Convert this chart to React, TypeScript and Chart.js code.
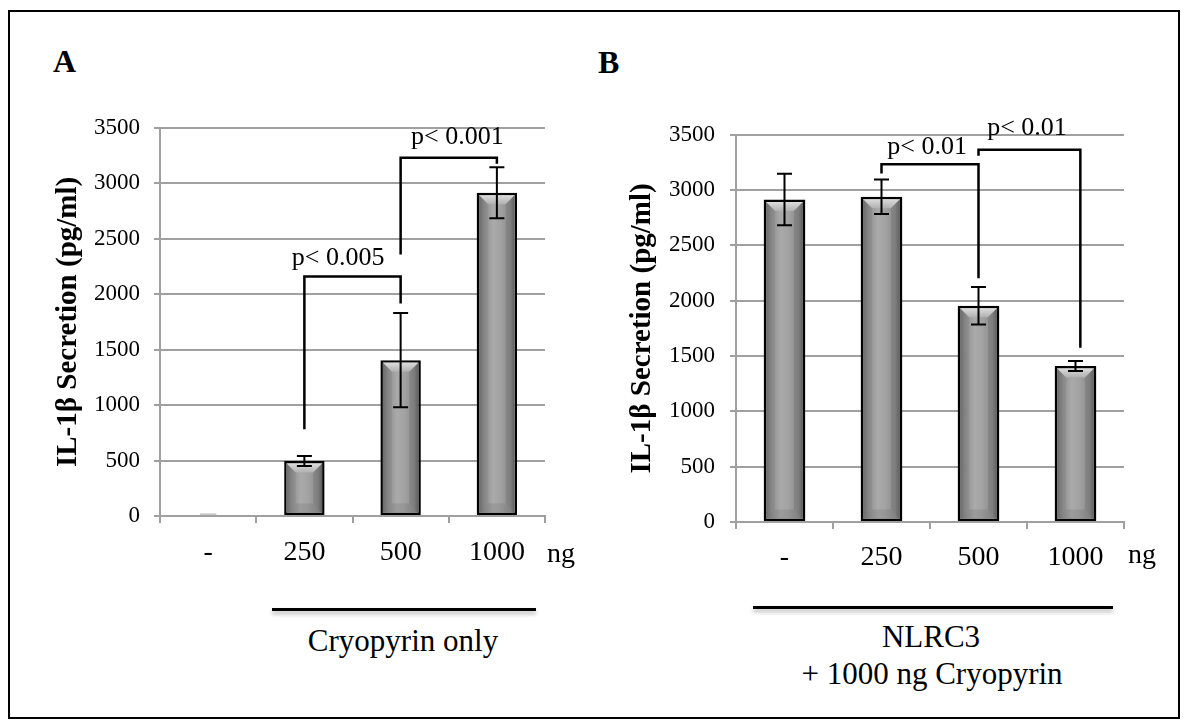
import React, { useEffect, useRef } from 'react';
import { Chart, registerables } from 'chart.js';

Chart.register(...registerables);

const FONT = '"Liberation Serif", "Times New Roman", Times, serif';
const GRID = '#a0a0a0';

const categories = ['-', '250', '500', '1000'];
const yTitle = 'IL-1β Secretion (pg/ml)';

const valuesA = [5, 495, 1405, 2915];
const errorsA = [0, 45, 425, 230];
const valuesB = [2915, 2940, 1955, 1410];
const errorsB = [232, 155, 170, 45];

// brackets: [fromIndex, toIndex, level, fromDropValue, toDropValue]
const bracketsA = [
  [1, 2, 2160, 783, 1917],
  [2, 3, 3230, 2358, 3177],
];
const pTextA = ['p< 0.005', 'p< 0.001'];
const pTextPosA = [
  [1.35, 2321],
  [2.59, 3419],
];

const bracketsB = [
  [1, 2, 3233, 3151, 2203],
  [2, 3.05, 3364, 3311, 1575],
];
const pTextB = ['p< 0.01', 'p< 0.01'];
const pTextPosB = [
  [1.47, 3384],
  [2.5, 3557],
];

function makeDecor(values: number[], errors: number[], brackets: number[][], texts: string[], textPos: number[][]) {
  return {
    id: 'decor',
    afterDatasetsDraw(chart: any) {
      const ctx = chart.ctx as CanvasRenderingContext2D;
      const xs = chart.scales.x;
      const ys = chart.scales.y;
      const meta = chart.getDatasetMeta(0);
      ctx.save();
      meta.data.forEach((el: any) => {
        const p = el.getProps(['x', 'y', 'base', 'width'], true);
        const left = p.x - p.width / 2;
        const right = p.x + p.width / 2;
        const top = Math.min(p.y, p.base);
        const bottom = Math.max(p.y, p.base);
        const h = bottom - top;
        if (h < 3) {
          ctx.fillStyle = '#c4c4c4';
          ctx.fillRect(left + 12, bottom - 2, p.width - 24, 1.5);
          return;
        }
        const bw = 2.5;
        const l = left + bw, r = right - bw, t = top + bw, b = bottom - bw;
        const g = ctx.createLinearGradient(l, 0, r, 0);
        g.addColorStop(0, '#727272');
        g.addColorStop(0.15, '#8f8f8f');
        g.addColorStop(0.4, '#aaaaaa');
        g.addColorStop(0.6, '#a2a2a2');
        g.addColorStop(0.88, '#8c8c8c');
        g.addColorStop(1, '#6a6a6a');
        ctx.fillStyle = g;
        ctx.fillRect(l, t, r - l, b - t);
        const bb = Math.min(9, (r - l) / 2, (b - t) / 2);
        // top bevel
        const tg = ctx.createLinearGradient(0, t, 0, t + bb);
        tg.addColorStop(0, '#dcdcdc');
        tg.addColorStop(1, '#b0b0b0');
        ctx.fillStyle = tg;
        ctx.beginPath();
        ctx.moveTo(l, t); ctx.lineTo(r, t); ctx.lineTo(r - bb, t + bb); ctx.lineTo(l + bb, t + bb); ctx.closePath();
        ctx.fill();
        // bottom bevel
        ctx.fillStyle = 'rgba(60,60,60,0.12)';
        ctx.beginPath();
        ctx.moveTo(l, b); ctx.lineTo(r, b); ctx.lineTo(r - bb, b - bb); ctx.lineTo(l + bb, b - bb); ctx.closePath();
        ctx.fill();
        // side bevels
        ctx.fillStyle = 'rgba(0,0,0,0.06)';
        ctx.beginPath();
        ctx.moveTo(l, t); ctx.lineTo(l + bb, t + bb); ctx.lineTo(l + bb, b - bb); ctx.lineTo(l, b); ctx.closePath();
        ctx.fill();
        ctx.fillStyle = 'rgba(0,0,0,0.1)';
        ctx.beginPath();
        ctx.moveTo(r, t); ctx.lineTo(r - bb, t + bb); ctx.lineTo(r - bb, b - bb); ctx.lineTo(r, b); ctx.closePath();
        ctx.fill();
      });
      // error bars
      ctx.strokeStyle = '#000';
      ctx.lineWidth = 2;
      meta.data.forEach((el: any, i: number) => {
        const e = errors[i];
        if (!e) return;
        const x = el.getProps(['x'], true).x;
        const y1 = ys.getPixelForValue(values[i] + e);
        const y2 = ys.getPixelForValue(values[i] - e);
        ctx.beginPath();
        ctx.moveTo(x, y1); ctx.lineTo(x, y2);
        ctx.moveTo(x - 7.5, y1); ctx.lineTo(x + 7.5, y1);
        ctx.moveTo(x - 7.5, y2); ctx.lineTo(x + 7.5, y2);
        ctx.stroke();
      });
      // brackets
      ctx.lineWidth = 2.5;
      ctx.lineJoin = 'miter';
      brackets.forEach((br) => {
        const x1 = xs.getPixelForValue(br[0]);
        const x2 = xs.getPixelForValue(br[1]);
        const yl = ys.getPixelForValue(br[2]);
        ctx.beginPath();
        ctx.moveTo(x1, ys.getPixelForValue(br[3]));
        ctx.lineTo(x1, yl);
        ctx.lineTo(x2, yl);
        ctx.lineTo(x2, ys.getPixelForValue(br[4]));
        ctx.stroke();
      });
      ctx.fillStyle = '#000';
      ctx.font = `26px ${FONT}`;
      ctx.textAlign = 'center';
      ctx.textBaseline = 'middle';
      texts.forEach((txt, i) => {
        ctx.fillText(txt, xs.getPixelForValue(textPos[i][0]), ys.getPixelForValue(textPos[i][1]));
      });
      ctx.restore();
    },
  };
}

function BarChart(props: {
  values: number[]; errors: number[]; brackets: number[][]; texts: string[]; textPos: number[][];
  barPct: number; padRight: number; xPad: number; titlePad: number; tickPad: number;
}) {
  const ref = useRef<HTMLCanvasElement>(null);
  useEffect(() => {
    const { values } = props;
    const chart = new Chart(ref.current as HTMLCanvasElement, {
      type: 'bar',
      data: {
        labels: categories,
        datasets: [
          {
            data: values,
            backgroundColor: (c: any) => (values[c.dataIndex] < 20 ? 'rgba(0,0,0,0)' : '#969696'),
            borderColor: '#000',
            borderWidth: (c: any) => (values[c.dataIndex] < 20 ? 0 : 2.5),
            borderSkipped: false,
            barPercentage: props.barPct,
            categoryPercentage: 1,
          },
        ],
      },
      options: {
        animation: false,
        responsive: false,
        maintainAspectRatio: false,
        layout: { padding: { top: 27, right: props.padRight, left: 0, bottom: 0 } },
        plugins: { legend: { display: false }, tooltip: { enabled: false } },
        scales: {
          x: {
            offset: true,
            grid: { offset: true, drawOnChartArea: false, drawTicks: true, tickLength: 7, color: GRID, lineWidth: 2 },
            border: { display: true, color: GRID, width: 2 },
            ticks: { color: '#000', font: { family: FONT, size: 28 }, padding: props.xPad, maxRotation: 0, autoSkip: false },
            afterFit: (s: any) => { s.height = 64; },
          },
          y: {
            min: 0,
            max: 3500,
            ticks: {
              stepSize: 500, color: '#000', font: { family: FONT, size: 23 }, padding: props.tickPad,
              callback: (v: any) => String(v),
            },
            grid: { color: GRID, lineWidth: 2, tickLength: 6, drawTicks: true },
            border: { display: true, color: GRID, width: 2 },
            title: {
              display: true,
              text: yTitle,
              color: '#000',
              font: { family: FONT, size: 29, weight: 'bold' },
              padding: { top: props.titlePad, bottom: 0 },
            },
            afterFit: (s: any) => { s.width = 140; },
          },
        },
      } as any,
      plugins: [makeDecor(props.values, props.errors, props.brackets, props.texts, props.textPos)],
    });
    return () => chart.destroy();
  }, []);
  return <canvas ref={ref} width={560} height={480} style={{ display: 'block' }} />;
}

function Label(p: { x: number; y: number; size: number; text: string; bold?: boolean }) {
  return (
    <div
      style={{
        position: 'absolute', left: p.x, top: p.y, transform: 'translate(-50%, -50%)',
        fontFamily: FONT, fontSize: p.size, lineHeight: 1, whiteSpace: 'nowrap',
        fontWeight: p.bold ? 'bold' : 'normal', color: '#000',
      }}
    >
      {p.text}
    </div>
  );
}

export default function App() {
  return (
    <div style={{ position: 'fixed', left: 0, top: 0, width: 1184, height: 724, background: '#fff', overflow: 'hidden' }}>
      <div style={{ position: 'absolute', left: 8, top: 10, width: 1172, height: 709, border: '2px solid #000', boxSizing: 'border-box' }} />
      <div style={{ position: 'absolute', left: 53, top: 45, fontFamily: FONT, fontSize: 32, fontWeight: 'bold', lineHeight: '32px' }}>A</div>
      <div style={{ position: 'absolute', left: 598, top: 46, fontFamily: FONT, fontSize: 32, fontWeight: 'bold', lineHeight: '32px' }}>B</div>
      <div style={{ position: 'absolute', left: 20, top: 100 }}>
        <BarChart values={valuesA} errors={errorsA} brackets={bracketsA} texts={pTextA} textPos={pTextPosA}
          barPct={0.42} padRight={35} xPad={13} titlePad={31} tickPad={14} />
      </div>
      <div style={{ position: 'absolute', left: 596, top: 106 }}>
        <BarChart values={valuesB} errors={errorsB} brackets={bracketsB} texts={pTextB} textPos={pTextPosB}
          barPct={0.43} padRight={32} xPad={12} titlePad={29} tickPad={15} />
      </div>
      <Label x={561} y={553} size={28} text="ng" />
      <Label x={1142} y={554} size={28} text="ng" />
      <div style={{ position: 'absolute', left: 272, top: 608, width: 264, height: 3, background: '#000', boxShadow: '0 3px 4px rgba(0,0,0,0.3)' }} />
      <div style={{ position: 'absolute', left: 753, top: 606, width: 360, height: 3, background: '#000', boxShadow: '0 3px 4px rgba(0,0,0,0.3)' }} />
      <Label x={403} y={640} size={31} text="Cryopyrin only" />
      <Label x={931} y={636} size={31} text="NLRC3" />
      <Label x={932} y={673} size={31} text="+ 1000 ng Cryopyrin" />
    </div>
  );
}
